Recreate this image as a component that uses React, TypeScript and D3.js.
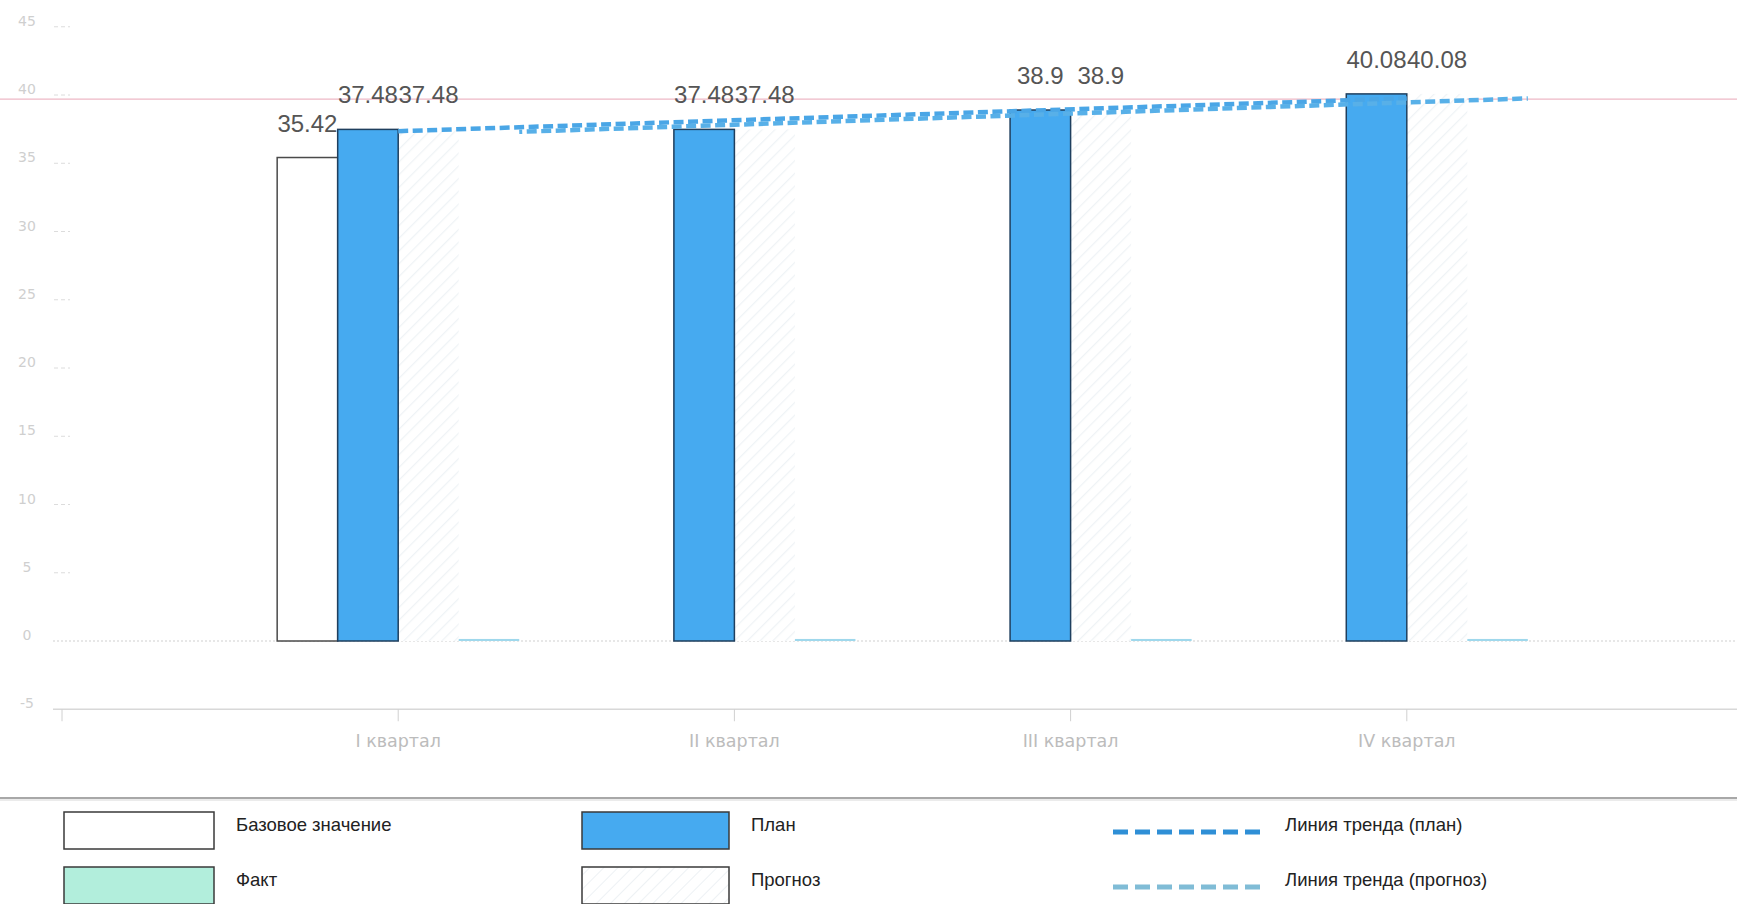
import React from "react";
import * as d3 from "d3";

const categories = ["I квартал", "II квартал", "III квартал", "IV квартал"];
const baseValues: (number | null)[] = [35.42, null, null, null];
const planValues = [37.48, 37.48, 38.9, 40.08];
const forecastValues = [37.48, 37.48, 38.9, 40.08];
const factValues = [0.15, 0.15, 0.15, 0.15];
const trendPlan = [37.35, 39.75];
const trendForecast = [37.3, 39.75];
const targetValue = 39.7;
const yTicks = [-5, 0, 5, 10, 15, 20, 25, 30, 35, 40, 45];
const seriesKeys = ["base", "plan", "forecast", "fact"];

const legendItems = [
  { label: "Базовое значение", kind: "base", col: 0, row: 0 },
  { label: "Факт", kind: "fact", col: 0, row: 1 },
  { label: "План", kind: "plan", col: 1, row: 0 },
  { label: "Прогноз", kind: "forecast", col: 1, row: 1 },
  { label: "Линия тренда (план)", kind: "trendPlan", col: 2, row: 0 },
  { label: "Линия тренда (прогноз)", kind: "trendForecast", col: 2, row: 1 },
];

const W = 1737;
const H = 904;

export default function App() {
  const x = d3.scalePoint<string>().domain(categories).range([62, 1743]).padding(1);
  const y = d3.scaleLinear().domain([-5, 45]).range([709.25, 26.75]);
  const bw = x.step() * 0.18;
  const inner = d3.scaleBand<string>().domain(seriesKeys).range([-2 * bw, 2 * bw]);

  const valueFont = "'Liberation Sans', Arial, sans-serif";
  const axisFont = "'DejaVu Sans', sans-serif";

  const lineGen = d3
    .line<[number, number]>()
    .x((d) => d[0])
    .y((d) => d[1]);

  const first = categories[0];
  const last = categories[categories.length - 1];
  const planTrendPts: [number, number][] = [
    [x(first)!, y(trendPlan[0])],
    [x(last)!, y(trendPlan[1])],
  ];
  const fcTrendPts: [number, number][] = [
    [x(first)! + 2 * bw, y(trendForecast[0])],
    [x(last)! + 2 * bw, y(trendForecast[1])],
  ];

  const barRect = (cat: string, key: string, v: number | null) => {
    if (v == null) return null;
    const x0 = x(cat)! + inner(key)!;
    const h = Math.max(2, Math.abs(y(0) - y(v)));
    return { x0, y0: v >= 0 ? y(0) - h : y(0), h };
  };

  const legendColX = [64, 582, 1113];
  const legendTextX = [236, 751, 1285];
  const legendRowY = [812, 867];

  return (
    <svg
      width={W}
      height={H}
      style={{ position: "absolute", left: 0, top: 0, background: "#fff" }}
    >
      <defs>
        <pattern
          id="hatch"
          patternUnits="userSpaceOnUse"
          width={9}
          height={9}
          patternTransform="rotate(45)"
        >
          <rect width={9} height={9} fill="#fff" />
          <line x1={0} y1={0} x2={0} y2={9} stroke="#eff3f6" strokeWidth={2.5} />
        </pattern>
        <pattern
          id="hatchLegend"
          patternUnits="userSpaceOnUse"
          width={10}
          height={10}
          patternTransform="rotate(45)"
        >
          <rect width={10} height={10} fill="#fff" />
          <line x1={0} y1={0} x2={0} y2={10} stroke="#edf1f4" strokeWidth={2} />
        </pattern>
      </defs>
      <rect width={W} height={H} fill="#fff" />

      {/* y ticks */}
      {yTicks.map((t) => (
        <g key={t}>
          <text
            x={27}
            y={y(t) - 6}
            textAnchor="middle"
            dominantBaseline="central"
            fontFamily={axisFont}
            fontSize={14}
            fill="#cfcfcf"
          >
            {t}
          </text>
          {t !== 0 && t !== -5 && (
            <line
              x1={54}
              x2={70}
              y1={y(t)}
              y2={y(t)}
              stroke="#dcdcdc"
              strokeDasharray="4,3"
            />
          )}
        </g>
      ))}

      {/* zero line */}
      <line
        x1={53}
        x2={W}
        y1={y(0)}
        y2={y(0)}
        stroke="#cfcfcf"
        strokeWidth={1}
        strokeDasharray="2,2"
      />
      {/* x axis line */}
      <line x1={53} x2={W} y1={y(-5)} y2={y(-5)} stroke="#d8d8d8" strokeWidth={1.5} />
      <line x1={62} x2={62} y1={y(-5)} y2={y(-5) + 12} stroke="#d0d0d0" />
      {categories.map((c) => (
        <g key={c}>
          <line x1={x(c)!} x2={x(c)!} y1={y(-5)} y2={y(-5) + 12} stroke="#d0d0d0" />
          <text
            x={x(c)!}
            y={y(-5) + 38}
            textAnchor="middle"
            fontFamily={axisFont}
            fontSize={17.5}
            fill="#bcbcbc"
          >
            {c}
          </text>
        </g>
      ))}

      {/* target line */}
      <line x1={0} x2={W} y1={y(targetValue)} y2={y(targetValue)} stroke="#e9a6b8" strokeWidth={1} />

      {/* bars */}
      {categories.map((c, i) => {
        const b = barRect(c, "base", baseValues[i]);
        const p = barRect(c, "plan", planValues[i]);
        const f = barRect(c, "forecast", forecastValues[i]);
        const fa = barRect(c, "fact", factValues[i]);
        return (
          <g key={c}>
            {f && <rect x={f.x0} y={f.y0} width={bw} height={f.h} fill="url(#hatch)" />}
            {fa && <rect x={fa.x0} y={fa.y0} width={bw} height={fa.h} fill="#9fd8ec" />}
            {b && (
              <rect
                x={b.x0}
                y={b.y0}
                width={bw}
                height={b.h}
                fill="#fff"
                stroke="#4a4a4a"
                strokeWidth={1.5}
              />
            )}
            {p && (
              <rect
                x={p.x0}
                y={p.y0}
                width={bw}
                height={p.h}
                fill="#46aaf0"
                stroke="#1f3f5e"
                strokeWidth={1.5}
              />
            )}
          </g>
        );
      })}

      {/* trend lines */}
      <path
        d={lineGen(planTrendPts)!}
        stroke="#4aa6e6"
        strokeWidth={4.5}
        strokeDasharray="10,4.5"
        fill="none"
      />
      <path
        d={lineGen(fcTrendPts)!}
        stroke="#58b0e8"
        strokeWidth={4.5}
        strokeDasharray="10,4.5"
        strokeDashoffset={7}
        fill="none"
      />

      {/* value labels */}
      {categories.map((c, i) => (
        <g key={"lab" + c} fontFamily={valueFont} fontSize={24} fill="#555">
          {baseValues[i] != null && (
            <text x={x(c)! + inner("base")! + bw / 2} y={y(baseValues[i]!) - 26} textAnchor="middle">
              {String(baseValues[i])}
            </text>
          )}
          <text x={x(c)! + inner("plan")! + bw / 2} y={y(planValues[i]) - 26} textAnchor="middle">
            {String(planValues[i])}
          </text>
          <text
            x={x(c)! + inner("forecast")! + bw / 2}
            y={y(forecastValues[i]) - 26}
            textAnchor="middle"
          >
            {String(forecastValues[i])}
          </text>
        </g>
      ))}

      {/* legend */}
      <line x1={0} x2={W} y1={798} y2={798} stroke="#a8a8a8" strokeWidth={2} />
      <line x1={0} x2={W} y1={800} y2={800} stroke="#e4e4e4" strokeWidth={1.5} />
      {legendItems.map((it) => {
        const bx = legendColX[it.col];
        const by = legendRowY[it.row];
        let sym: React.ReactNode = null;
        if (it.kind === "base" || it.kind === "fact" || it.kind === "plan" || it.kind === "forecast") {
          const fill =
            it.kind === "base"
              ? "#fff"
              : it.kind === "fact"
              ? "#b2eedc"
              : it.kind === "plan"
              ? "#46aaf0"
              : "url(#hatchLegend)";
          sym = (
            <rect
              x={bx}
              y={by}
              width={it.col === 0 ? 150 : 147}
              height={37}
              fill={fill}
              stroke="#3a3a3a"
              strokeWidth={1.5}
            />
          );
        } else {
          sym = (
            <line
              x1={bx}
              x2={bx + 153}
              y1={by + 20}
              y2={by + 20}
              stroke={it.kind === "trendPlan" ? "#2f8fd6" : "#80bcd6"}
              strokeWidth={5}
              strokeDasharray="15,7"
            />
          );
        }
        return (
          <g key={it.label}>
            {sym}
            <text
              x={legendTextX[it.col]}
              y={by + 12}
              dominantBaseline="central"
              fontFamily={valueFont}
              fontSize={18.5}
              fill="#222"
            >
              {it.label}
            </text>
          </g>
        );
      })}
    </svg>
  );
}
